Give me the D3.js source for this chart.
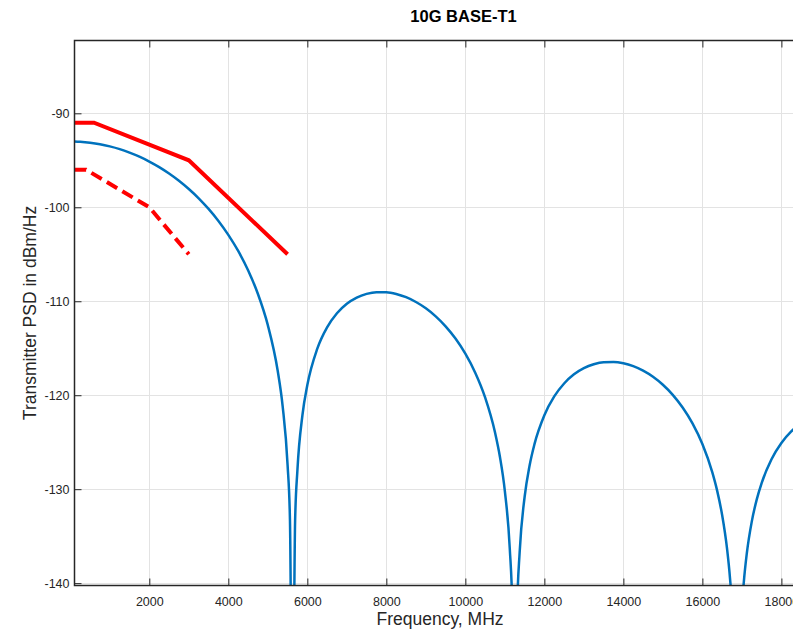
<!DOCTYPE html>
<html>
<head>
<meta charset="utf-8">
<script src="https://cdn.jsdelivr.net/npm/d3@7"></script>
<style>
  body { margin: 0; background: #fff; }
  svg { display: block; font-family: "Liberation Sans", Arial, sans-serif; }
  .grid line { stroke: #e3e3e3; stroke-width: 1; }
  .axis path { display: none; }
  .axis line { stroke: #262626; }
  .axis text { fill: #262626; font-size: 12.5px; }
</style>
</head>
<body>
<div id="chart"></div>
<script>

// Transmit PSD (MHz, dBm/Hz)
var freqs = [100, 250, 500, 750, 1000, 1250, 1500, 1750, 2000, 2250, 2500, 2750, 3000,
  3250, 3500, 3750, 4000, 4250, 4500, 4750, 5000, 5250, 5375, 5500, 5560, 5625, 5690,
  5750, 5875, 6000, 6250, 6500, 6750, 7000, 7250, 7500, 7750, 8000, 8250, 8500, 8750,
  9000, 9250, 9500, 9750, 10000, 10250, 10500, 10750, 10875, 11000, 11125, 11190, 11250,
  11310, 11375, 11500, 11625, 11750, 12000, 12250, 12500, 12750, 13000, 13250, 13500,
  13750, 14000, 14250, 14500, 14750, 15000, 15250, 15500, 15750, 16000, 16250, 16375,
  16500, 16625, 16700, 16750, 16875, 17000, 17050, 17125, 17250, 17375, 17500, 17750,
  18000, 18250, 18500, 18750];
var psd = [-93.00, -93.03, -93.13, -93.29, -93.52, -93.81, -94.18, -94.61, -95.13, -95.72,
  -96.40, -97.17, -98.05, -99.04, -100.17, -101.45, -102.93, -104.65, -106.70, -109.23,
  -112.54, -117.40, -121.15, -127.41, -133.21, -160, -133.47, -127.91, -122.16, -118.92,
  -115.07, -112.78, -111.28, -110.27, -109.61, -109.21, -109.03, -109.04, -109.22, -109.57,
  -110.08, -110.75, -111.61, -112.67, -113.97, -115.58, -117.60, -120.23, -123.94, -126.55,
  -130.20, -136.36, -142.81, -160, -142.96, -136.68, -130.83, -127.50, -125.20, -122.13,
  -120.13, -118.75, -117.78, -117.12, -116.70, -116.48, -116.46, -116.60, -116.91, -117.39,
  -118.04, -118.89, -119.96, -121.31, -123.00, -125.20, -128.19, -130.18, -132.75, -136.36,
  -139.51, -142.47, -160, -142.70, -139.83, -136.82, -133.45, -131.11, -129.35, -126.82,
  -125.09, -123.86, -122.98, -122.37];

// upper mask
var upperFreq = [100, 600, 3000, 5500];
var upperPsd = [-91, -91, -95, -105];
// lower mask (dashed)
var lowerFreq = [100, 400, 2000, 3000];
var lowerPsd = [-96, -96, -100, -105];

var xTicks = [2000, 4000, 6000, 8000, 10000, 12000, 14000, 16000, 18000];
var yTicks = [-140, -130, -120, -110, -100, -90];

var W = 793, H = 629;
var pLeft = 74.5, pRight = 852.5, pTop = 40.5, pBottom = 585.5;

var x = d3.scaleLinear().domain([100, 19800]).range([pLeft - 0.25, pRight]);
var y = d3.scaleLinear().domain([-140.25, -82.25]).range([pBottom, pTop]);

var svg = d3.select("#chart").append("svg")
  .attr("width", W)
  .attr("height", H);

svg.append("defs").append("clipPath").attr("id", "plotclip")
  .append("rect")
  .attr("x", pLeft).attr("y", pTop)
  .attr("width", pRight - pLeft).attr("height", pBottom - pTop);

// grid
var grid = svg.append("g").attr("class", "grid");
grid.selectAll(".gx").data(xTicks).enter().append("line")
  .attr("x1", function (d) { return Math.round(x(d)) + 0.5; })
  .attr("x2", function (d) { return Math.round(x(d)) + 0.5; })
  .attr("y1", pTop).attr("y2", pBottom);
grid.selectAll(".gy").data(yTicks).enter().append("line")
  .attr("y1", function (d) { return Math.round(y(d)) + 0.5; })
  .attr("y2", function (d) { return Math.round(y(d)) + 0.5; })
  .attr("x1", pLeft).attr("x2", pRight);

// curves
var plot = svg.append("g").attr("clip-path", "url(#plotclip)");

var blueLine = d3.line()
  .x(function (d) { return x(d[0]); })
  .y(function (d) { return y(d[1]); })
  .curve(d3.curveMonotoneX);

plot.append("path")
  .datum(d3.zip(freqs, psd))
  .attr("d", blueLine)
  .attr("fill", "none")
  .attr("stroke", "#0072BD")
  .attr("stroke-width", 2.5);

var maskLine = d3.line()
  .x(function (d) { return x(d[0]); })
  .y(function (d) { return y(d[1]); });

plot.append("path")
  .datum(d3.zip(upperFreq, upperPsd))
  .attr("d", maskLine)
  .attr("fill", "none")
  .attr("stroke", "#FF0000")
  .attr("stroke-width", 4);

plot.append("path")
  .datum(d3.zip(lowerFreq, lowerPsd))
  .attr("d", maskLine)
  .attr("fill", "none")
  .attr("stroke", "#FF0000")
  .attr("stroke-width", 4)
  .attr("stroke-dasharray", "12,6");

// axes, ticks pointing inward; plain hyphen for negatives
var plain = function (d) { return String(d); };
var xAxis = d3.axisBottom(x).tickValues(xTicks).tickSize(-7).tickPadding(12).tickFormat(plain);
var xAxisTop = d3.axisTop(x).tickValues(xTicks).tickSize(-7).tickFormat("");
var yAxis = d3.axisLeft(y).tickValues(yTicks).tickSize(-7).tickPadding(5).tickFormat(plain);

svg.append("g").attr("class", "axis")
  .attr("transform", "translate(0," + pBottom + ")")
  .call(xAxis);
svg.append("g").attr("class", "axis")
  .attr("transform", "translate(0," + pTop + ")")
  .call(xAxisTop);
svg.append("g").attr("class", "axis")
  .attr("transform", "translate(" + pLeft + ",0)")
  .call(yAxis);

// box
svg.append("path")
  .attr("d", "M" + pRight + "," + pTop + "H" + pLeft + "V" + pBottom + "H" + pRight)
  .attr("fill", "none")
  .attr("stroke", "#262626")
  .attr("stroke-width", 1.5);

// labels
svg.append("text")
  .attr("x", 463.5).attr("y", 22)
  .attr("text-anchor", "middle")
  .attr("font-weight", "bold")
  .attr("font-size", 16.5)
  .attr("fill", "#000")
  .text("10G BASE-T1");

svg.append("text")
  .attr("x", 440).attr("y", 625)
  .attr("text-anchor", "middle")
  .attr("font-size", 17.5)
  .attr("fill", "#262626")
  .text("Frequency, MHz");

svg.append("text")
  .attr("transform", "translate(36," + ((pTop + pBottom) / 2) + ") rotate(-90)")
  .attr("text-anchor", "middle")
  .attr("font-size", 17.5)
  .attr("fill", "#262626")
  .text("Transmitter PSD in dBm/Hz");

</script>
</body>
</html>
